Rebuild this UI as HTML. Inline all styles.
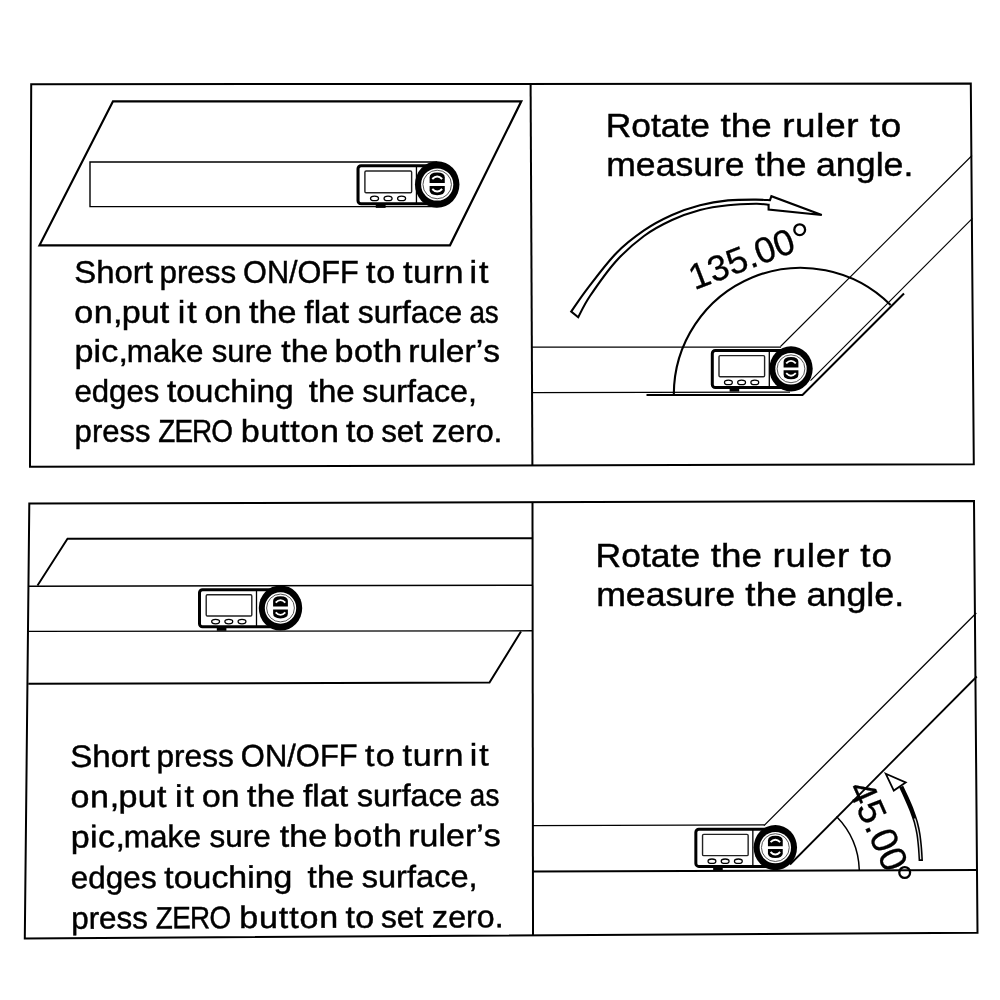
<!DOCTYPE html>
<html>
<head>
<meta charset="utf-8">
<title>Angle ruler instructions</title>
<style>
  html, body { margin: 0; padding: 0; background: #ffffff; }
  body { width: 1000px; height: 1000px; overflow: hidden; }
  svg { display: block; will-change: transform; filter: grayscale(1); }
  text { font-family: "Liberation Sans", sans-serif; fill: #000; }
  .t { font-kerning: none; stroke: #000; stroke-width: 0.45px; }
  .n { font-size: 36px; stroke: #000; stroke-width: 0.3px; }
</style>
</head>
<body>
<svg width="1000" height="1000" viewBox="0 0 1000 1000">
  <defs>
    <!-- digital angle gauge, origin = hinge centre -->
    <g id="devb">
      <rect x="-78.7" y="-18.3" width="74" height="37.1" rx="3" ry="3" fill="#fff" stroke="#000" stroke-width="3"/>
      <line x1="-21.7" y1="-18" x2="-21.7" y2="18.5" stroke="#000" stroke-width="1.3"/>
      <rect x="-72" y="-13.2" width="45.6" height="21.2" rx="1.2" fill="#fff" stroke="#222" stroke-width="1.4"/>
      <ellipse cx="-62.6" cy="13.6" rx="3.9" ry="2.2" fill="#fff" stroke="#000" stroke-width="1.3"/>
      <ellipse cx="-49.4" cy="13.6" rx="3.9" ry="2.2" fill="#fff" stroke="#000" stroke-width="1.3"/>
      <ellipse cx="-36.2" cy="13.6" rx="3.9" ry="2.2" fill="#fff" stroke="#000" stroke-width="1.3"/>
      <rect x="-61.4" y="19" width="9.6" height="3.8" fill="#000"/>
    </g>
    <g id="devr">
      <ellipse cx="0" cy="0" rx="21.7" ry="22.6" fill="#000"/>
      <circle cx="0" cy="0" r="15.7" fill="#fff"/>
      <circle cx="0" cy="0" r="13.9" fill="none" stroke="#444" stroke-width="0.9"/>
      <path d="M -7.4 -1.4 V -7 Q -7.4 -11.8 0 -11.8 Q 7.4 -11.8 7.4 -7 V -1.4 Z" fill="#000"/>
      <path d="M -4.8 -5.4 Q 0 -10.4 4.8 -5.4" fill="none" stroke="#fff" stroke-width="1.9"/>
      <path d="M -7.4 1.4 V 5.6 Q -7.4 10.4 0 10.4 Q 7.4 10.4 7.4 5.6 V 1.4 Z" fill="#000"/>
      <path d="M -4.8 4.4 Q 0 9.4 4.8 4.4" fill="none" stroke="#fff" stroke-width="1.9"/>
    </g>
  </defs>

  <rect x="0" y="0" width="1000" height="1000" fill="#fff"/>

  <!-- ================= TOP PANEL ================= -->
  <g fill="none" stroke="#000" stroke-width="2">
    <path d="M 31.2 84.2 L 970.8 83.6 L 973.8 464.3 L 30 466.7 Z"/>
    <path d="M 530.6 84 L 532.4 465.5"/>
  </g>

  <!-- top-left picture -->
  <g fill="none" stroke="#000">
    <path d="M 113 101.3 L 521.3 101.3 L 450 245.3 L 39.5 245.3 Z" stroke-width="2.2"/>
    <path d="M 437 162 H 90 V 206.6 H 437" stroke-width="1.4"/>
  </g>
  <use href="#devb" transform="translate(438.7 184.5) scale(1.025)"/><use href="#devr" transform="translate(437.2 184.5) scale(1.025)"/>

  <g class="t">
    <text transform="matrix(1.0613 0 0 1 74.21 283.00)" font-size="31.0" letter-spacing="0.000">Short</text>
    <text transform="matrix(1.0112 0 0 1 159.48 283.00)" font-size="31.0" letter-spacing="0.000">press</text>
    <text transform="matrix(0.9887 0 0 1 243.05 283.00)" font-size="31.0" letter-spacing="0.000">ON/OFF</text>
    <text transform="matrix(1.1000 0 0 1 365.88 283.00)" font-size="31.0" letter-spacing="0.827">to</text>
    <text transform="matrix(1.1000 0 0 1 402.98 283.00)" font-size="31.0" letter-spacing="0.506">turn</text>
    <text transform="matrix(1.1000 0 0 1 469.42 283.00)" font-size="31.0" letter-spacing="1.801">it</text>
    <text transform="matrix(1.1000 0 0 1 74.27 322.80)" font-size="31.0" letter-spacing="0.405">on,</text>
    <text transform="matrix(1.1000 0 0 1 121.80 322.80)" font-size="31.0" letter-spacing="0.020">put</text>
    <text transform="matrix(1.1000 0 0 1 177.72 322.80)" font-size="31.0" letter-spacing="1.710">it</text>
    <text transform="matrix(1.0781 0 0 1 204.40 322.80)" font-size="31.0" letter-spacing="0.000">on</text>
    <text transform="matrix(1.1000 0 0 1 248.88 322.80)" font-size="31.0" letter-spacing="0.058">the</text>
    <text transform="matrix(1.0814 0 0 1 304.33 322.80)" font-size="31.0" letter-spacing="0.000">flat</text>
    <text transform="matrix(1.0270 0 0 1 357.81 322.80)" font-size="31.0" letter-spacing="-0.000">surface</text>
    <text transform="matrix(0.9000 0 0 1 469.51 322.80)" font-size="31.0" letter-spacing="-0.304">as</text>
    <text transform="matrix(1.1000 0 0 1 74.40 362.30)" font-size="31.0" letter-spacing="0.181">pic,</text>
    <text transform="matrix(1.0101 0 0 1 126.82 362.30)" font-size="31.0" letter-spacing="0.000">make</text>
    <text transform="matrix(1.0058 0 0 1 211.73 362.30)" font-size="31.0" letter-spacing="0.000">sure</text>
    <text transform="matrix(1.0910 0 0 1 281.29 362.30)" font-size="31.0" letter-spacing="0.000">the</text>
    <text transform="matrix(1.1000 0 0 1 334.50 362.30)" font-size="31.0" letter-spacing="0.407">both</text>
    <text transform="matrix(1.0859 0 0 1 408.36 362.30)" font-size="31.0" letter-spacing="0.000">ruler’s</text>
    <text transform="matrix(1.0058 0 0 1 74.38 401.80)" font-size="31.0" letter-spacing="0.000">edges</text>
    <text transform="matrix(1.0825 0 0 1 166.89 401.80)" font-size="31.0" letter-spacing="0.000">touching</text>
    <text transform="matrix(1.0667 0 0 1 308.70 401.80)" font-size="31.0" letter-spacing="0.000">the</text>
    <text transform="matrix(1.0411 0 0 1 362.20 401.80)" font-size="31.0" letter-spacing="0.000">surface,</text>
    <text transform="matrix(1.0029 0 0 1 74.60 442.00)" font-size="31.0" letter-spacing="0.000">press</text>
    <text transform="matrix(0.9000 0 0 1 158.31 442.00)" font-size="31.0" letter-spacing="-1.030">ZERO</text>
    <text transform="matrix(1.1000 0 0 1 240.80 442.00)" font-size="31.0" letter-spacing="0.601">button</text>
    <text transform="matrix(1.0962 0 0 1 346.09 442.00)" font-size="31.0" letter-spacing="0.000">to</text>
    <text transform="matrix(1.0133 0 0 1 381.13 442.00)" font-size="31.0" letter-spacing="0.000">set</text>
    <text transform="matrix(1.0273 0 0 1 431.71 442.00)" font-size="31.0" letter-spacing="0.000">zero.</text>
  </g>

  <!-- top-right picture -->
  <g class="t">
    <text transform="matrix(1.0565 0 0 1 605.70 137.40)" font-size="33.5" letter-spacing="0.000">Rotate</text>
    <text transform="matrix(1.0993 0 0 1 720.44 137.40)" font-size="33.5" letter-spacing="-0.000">the</text>
    <text transform="matrix(1.1000 0 0 1 782.15 137.40)" font-size="33.5" letter-spacing="0.623">ruler</text>
    <text transform="matrix(1.1000 0 0 1 869.64 137.40)" font-size="33.5" letter-spacing="0.884">to</text>
    <text transform="matrix(1.0622 0 0 1 606.24 176.00)" font-size="33.5" letter-spacing="0.000">measure</text>
    <text transform="matrix(1.1000 0 0 1 754.94 176.00)" font-size="33.5" letter-spacing="0.168">the</text>
    <text transform="matrix(1.0681 0 0 1 815.98 176.00)" font-size="33.5" letter-spacing="-0.000">angle.</text>
  </g>
  <g fill="none" stroke="#000">
    <!-- fixed arm -->
    <path d="M 531.6 347.2 H 781" stroke-width="1.3"/>
    <path d="M 531.8 392.6 L 790 392.1" stroke-width="1.2"/>
    <!-- moving arm -->
    <path d="M 780.5 346.5 L 972 155.5" stroke-width="1.1"/>
    <path d="M 810.5 380.6 L 972.4 218.4" stroke-width="1.1"/>
    <!-- surface -->
    <path d="M 646.5 395 H 802.5 L 904 293.5" stroke-width="2.1"/>
    <!-- protractor arc -->
    <path d="M 673.8 395 A 127 127 0 0 1 890.6 305" stroke-width="2.1"/>
    <!-- curved hollow arrow -->
    <path d="M 571.2 311.6 C 574.0 307.6 580.5 297.5 588.0 287.8 C 595.5 278.1 606.7 263.0 616.0 253.4 C 625.3 243.8 634.7 236.8 644.0 230.4 C 653.3 224.0 662.7 219.2 672.0 215.0 C 681.3 210.8 690.7 207.6 700.0 205.2 C 709.3 202.8 718.7 201.3 728.0 200.4 C 737.3 199.5 749.0 199.6 756.0 199.6 C 763.0 199.6 767.7 200.1 770.0 200.2 L 771.4 196.2 L 821.8 215 L 768.6 209.6 L 768.6 204.8 C 766.5 204.6 762.8 203.7 756.0 203.8 C 749.2 203.9 737.3 204.2 728.0 205.2 C 718.7 206.2 709.3 207.5 700.0 210.0 C 690.7 212.5 681.3 215.7 672.0 220.0 C 662.7 224.3 653.3 229.1 644.0 236.0 C 634.7 242.9 625.0 251.2 616.0 261.2 C 607.0 271.2 596.3 286.7 590.0 296.0 C 583.7 305.3 580.2 313.7 578.2 317.2 Z" stroke-width="2.1" fill="#fff" stroke-linejoin="miter"/>
  </g>
  <use href="#devb" x="791.0" y="368.8"/><use href="#devr" x="791.0" y="368.8"/>
  <text class="n" transform="translate(694.6 290.2) rotate(-21)">135.00</text>
  <circle cx="799.7" cy="229.7" r="5.4" fill="none" stroke="#000" stroke-width="2.3"/>

  <!-- ================= BOTTOM PANEL ================= -->
  <g fill="none" stroke="#000" stroke-width="2">
    <path d="M 29.3 503.5 L 974 501 L 977.5 932.7 L 24.8 938.5 Z"/>
    <path d="M 532.5 502.3 L 533 935.3"/>
  </g>

  <!-- bottom-left picture -->
  <g fill="none" stroke="#000">
    <path d="M 532.5 538.2 L 67.5 538.8 L 37.5 585.6" stroke-width="1.9"/>
    <path d="M 29 586.3 L 532.5 585.2" stroke-width="1.4"/>
    <path d="M 28.8 631.4 L 532.5 630.8" stroke-width="1.4"/>
    <path d="M 521 631.5 L 489.5 682.6 L 28.3 683.8" stroke-width="2"/>
  </g>
  <use href="#devb" x="278.2" y="608.0"/><use href="#devr" x="280.5" y="608.0"/>

  <g class="t" transform="rotate(-0.2 72 847)">
    <text transform="matrix(1.0725 0 0 1 70.49 767.00)" font-size="31.0" letter-spacing="0.000">Short</text>
    <text transform="matrix(1.0219 0 0 1 156.67 767.00)" font-size="31.0" letter-spacing="0.000">press</text>
    <text transform="matrix(0.9992 0 0 1 241.12 767.00)" font-size="31.0" letter-spacing="0.000">ON/OFF</text>
    <text transform="matrix(1.1000 0 0 1 365.27 767.00)" font-size="31.0" letter-spacing="1.091">to</text>
    <text transform="matrix(1.1000 0 0 1 402.76 767.00)" font-size="31.0" letter-spacing="0.692">turn</text>
    <text transform="matrix(1.1000 0 0 1 469.92 767.00)" font-size="31.0" letter-spacing="1.960">it</text>
    <text transform="matrix(1.1000 0 0 1 70.57 807.20)" font-size="31.0" letter-spacing="0.617">on,</text>
    <text transform="matrix(1.1000 0 0 1 118.61 807.20)" font-size="31.0" letter-spacing="0.237">put</text>
    <text transform="matrix(1.1000 0 0 1 175.13 807.20)" font-size="31.0" letter-spacing="1.868">it</text>
    <text transform="matrix(1.0895 0 0 1 202.06 807.20)" font-size="31.0" letter-spacing="0.000">on</text>
    <text transform="matrix(1.1000 0 0 1 247.03 807.20)" font-size="31.0" letter-spacing="0.278">the</text>
    <text transform="matrix(1.0929 0 0 1 303.05 807.20)" font-size="31.0" letter-spacing="0.000">flat</text>
    <text transform="matrix(1.0379 0 0 1 357.11 807.20)" font-size="31.0" letter-spacing="0.000">surface</text>
    <text transform="matrix(0.9004 0 0 1 470.01 807.20)" font-size="31.0" letter-spacing="0.000">as</text>
    <text transform="matrix(1.1000 0 0 1 70.71 847.40)" font-size="31.0" letter-spacing="0.337">pic,</text>
    <text transform="matrix(1.0208 0 0 1 123.66 847.40)" font-size="31.0" letter-spacing="0.000">make</text>
    <text transform="matrix(1.0165 0 0 1 209.48 847.40)" font-size="31.0" letter-spacing="0.000">sure</text>
    <text transform="matrix(1.1000 0 0 1 279.77 847.40)" font-size="31.0" letter-spacing="0.048">the</text>
    <text transform="matrix(1.1000 0 0 1 333.57 847.40)" font-size="31.0" letter-spacing="0.611">both</text>
    <text transform="matrix(1.0974 0 0 1 408.20 847.40)" font-size="31.0" letter-spacing="0.000">ruler’s</text>
    <text transform="matrix(1.0165 0 0 1 70.66 888.30)" font-size="31.0" letter-spacing="0.000">edges</text>
    <text transform="matrix(1.0940 0 0 1 164.16 888.30)" font-size="31.0" letter-spacing="0.000">touching</text>
    <text transform="matrix(1.0781 0 0 1 307.47 888.30)" font-size="31.0" letter-spacing="0.000">the</text>
    <text transform="matrix(1.0521 0 0 1 361.54 888.30)" font-size="31.0" letter-spacing="0.000">surface,</text>
    <text transform="matrix(1.0136 0 0 1 70.88 928.70)" font-size="31.0" letter-spacing="0.000">press</text>
    <text transform="matrix(0.9000 0 0 1 155.50 928.70)" font-size="31.0" letter-spacing="-0.745">ZERO</text>
    <text transform="matrix(1.1000 0 0 1 238.88 928.70)" font-size="31.0" letter-spacing="0.782">button</text>
    <text transform="matrix(1.1000 0 0 1 345.26 928.70)" font-size="31.0" letter-spacing="0.172">to</text>
    <text transform="matrix(1.0241 0 0 1 380.67 928.70)" font-size="31.0" letter-spacing="0.000">set</text>
    <text transform="matrix(1.0382 0 0 1 431.79 928.70)" font-size="31.0" letter-spacing="0.000">zero.</text>
  </g>

  <!-- bottom-right picture -->
  <g class="t">
    <text transform="matrix(1.0596 0 0 1 595.59 566.60)" font-size="33.5" letter-spacing="-0.000">Rotate</text>
    <text transform="matrix(1.1000 0 0 1 710.68 566.60)" font-size="33.5" letter-spacing="0.052">the</text>
    <text transform="matrix(1.1000 0 0 1 772.58 566.60)" font-size="33.5" letter-spacing="0.673">ruler</text>
    <text transform="matrix(1.1000 0 0 1 860.32 566.60)" font-size="33.5" letter-spacing="0.965">to</text>
    <text transform="matrix(1.0654 0 0 1 596.13 605.70)" font-size="33.5" letter-spacing="0.000">measure</text>
    <text transform="matrix(1.1000 0 0 1 745.28 605.70)" font-size="33.5" letter-spacing="0.235">the</text>
    <text transform="matrix(1.0713 0 0 1 806.50 605.70)" font-size="33.5" letter-spacing="0.000">angle.</text>
  </g>
  <g fill="none" stroke="#000">
    <path d="M 533 825.6 L 764.5 824.9" stroke-width="1.4"/>
    <path d="M 533 871.4 L 977 870" stroke-width="2"/>
    <path d="M 764 825.6 L 976.3 613" stroke-width="1.3"/>
    <path d="M 790 864.5 L 976.8 676.5" stroke-width="1.8"/>
    <path d="M 859.3 870 A 80 80 0 0 0 836.5 816.5" stroke-width="1.5"/>
    <!-- small arrow -->
    <path d="M 901.2 786.6 C 902.1 788.5 904.7 794.0 906.5 798.0 C 908.2 801.9 910.2 806.2 911.7 810.2 C 913.2 814.2 914.6 818.1 915.8 822.1 C 916.9 826.1 917.7 829.7 918.4 834.0 C 919.1 838.3 919.6 843.5 920.0 848.0 C 920.4 852.5 920.7 858.8 920.8 861.0" stroke-width="4.4" fill="none"/>
    <path d="M 914.6 818.5 C 914.8 819.1 915.1 819.5 915.8 822.1 C 916.4 824.7 917.7 829.7 918.4 834.0 C 919.1 838.3 919.6 843.8 920.0 848.0 C 920.3 852.2 920.6 857.4 920.7 859.3" stroke="#e4e4e4" stroke-width="1.3" fill="none"/>
    <path d="M 885.8 773.8 L 905.7 782.5 L 893.8 790.6 Z" stroke-width="1.8" fill="#fff" stroke-linejoin="miter"/>
  </g>
  <use href="#devb" x="774.5500000000001" y="847.6"/><use href="#devr" x="775.35" y="847.6"/>
  <text class="n" style="font-size:37.5px" transform="translate(847.25 788.1) rotate(66)">45.00</text>
  <circle cx="904.7" cy="872.5" r="5.4" fill="none" stroke="#000" stroke-width="2.3"/>
</svg>
</body>
</html>
